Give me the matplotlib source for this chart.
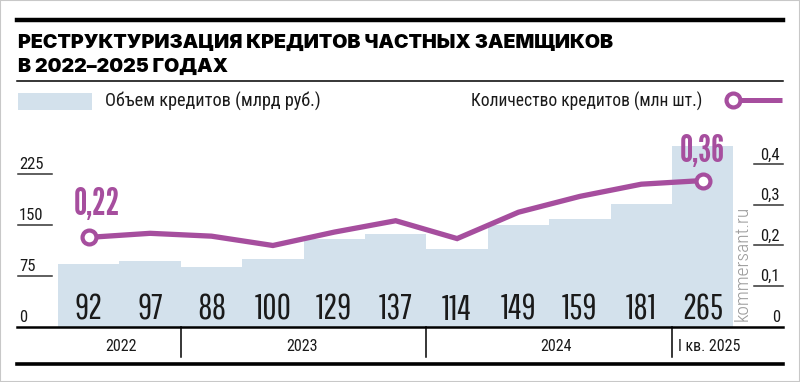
import matplotlib
matplotlib.use("Agg")
import matplotlib.pyplot as plt
import matplotlib.transforms as mtransforms

# ---------------- data ----------------
volume = [92, 97, 88, 100, 129, 137, 114, 149, 159, 181, 265]          # млрд руб.
count = [0.22, 0.23, 0.223, 0.20, 0.233, 0.261, 0.217, 0.282, 0.321, 0.351, 0.36]  # млн шт.
volume_labels = ["92", "97", "88", "100", "129", "137", "114", "149", "159", "181", "265"]
left_ticks = [0, 75, 150, 225]
left_tick_labels = ["0", "75", "150", "225"]
right_ticks = [0, 0.1, 0.2, 0.3, 0.4]
right_tick_labels = ["0", "0,1", "0,2", "0,3", "0,4"]
groups = ["2022", "2023", "2024", "I кв. 2025"]
group_sizes = [2, 4, 4, 1]
highlight = {0: "0,22", 10: "0,36"}
title_lines = ["РЕСТРУКТУРИЗАЦИЯ КРЕДИТОВ ЧАСТНЫХ ЗАЕМЩИКОВ", "В 2022–2025 ГОДАХ"]
legend_bar = "Объем кредитов (млрд руб.)"
legend_line = "Количество кредитов (млн шт.)"
watermark = "kommersant.ru"

# ---------------- style ----------------
COND = ["Roboto Condensed", "DejaVu Sans"]
NUMF = ["Pathway Gothic One", "Roboto Condensed", "DejaVu Sans"]
HIF = ["League Gothic", "Roboto Condensed", "DejaVu Sans"]
TITLEF = ["Inter", "Roboto", "DejaVu Sans"]
PURPLE = "#A64E9E"
BLUE = "#D3E1EC"
DARK = "#1a1a1a"
group_label_dx = [1.5, -1.5, 5, 5]   # points, small nudges of the category labels

W, H = 800, 382
fig = plt.figure(figsize=(W / 100, H / 100), dpi=100)
renderer = fig.canvas.get_renderer()


def fx(px):
    return px / W


def fy(py):
    return 1 - py / H


def fit_width(t, target_px):
    bb = t.get_window_extent(renderer)
    if bb.width > 0:
        t.set_fontsize(t.get_fontsize() * target_px / bb.width)


# frame border
fig.patches.append(plt.Rectangle((0, 0), 1, 1, transform=fig.transFigure,
                                 fill=False, edgecolor="#c8c8c8", linewidth=1.5))

# top rules
fig.add_artist(plt.Line2D([fx(17), fx(783)], [fy(19.5), fy(19.5)], color="black", lw=3.2))
fig.add_artist(plt.Line2D([fx(17), fx(783)], [fy(81), fy(81)], color="black", lw=1.1))

t1 = fig.text(fx(18), fy(47.8), title_lines[0], family=TITLEF, weight="black",
              fontsize=14, color="black", va="baseline", ha="left")
fit_width(t1, 595)
t2 = fig.text(fx(18), fy(72.3), title_lines[1], family=TITLEF, weight="black",
              fontsize=t1.get_fontsize(), color="black", va="baseline", ha="left")

# legend
fig.patches.append(plt.Rectangle((fx(18), fy(109.5)), fx(92) - fx(18), fy(93.3) - fy(109.5),
                                 transform=fig.transFigure, facecolor=BLUE, edgecolor="none"))
lb = fig.text(fx(105), fy(106.5), legend_bar, family=COND, fontsize=13, color=DARK,
              va="baseline", ha="left")
fit_width(lb, 215)
ll = fig.text(fx(702), fy(106.5), legend_line, family=COND, fontsize=13, color=DARK,
              va="baseline", ha="right")
fit_width(ll, 231)
fig.add_artist(plt.Line2D([fx(733), fx(782)], [fy(100), fy(100)], color=PURPLE, lw=3.6,
                          solid_capstyle="butt"))
fig.add_artist(plt.Line2D([fx(733)], [fy(100)], marker="o", markersize=10, markeredgewidth=3,
                          markerfacecolor="white", markeredgecolor=PURPLE))

# ---------------- axes ----------------
base_px, top_px = 326.7, 120
bar0_px, bar_w = 58, 61.4
x_left = (17 - bar0_px) / bar_w - 0.5
x_right = (783 - bar0_px) / bar_w - 0.5
ax = fig.add_axes([fx(17), fy(base_px), fx(783) - fx(17), (base_px - top_px) / H])
ax.set_xlim(x_left, x_right)
ax.set_ylim(0, (base_px - top_px) / 0.68)
ax.axis("off")

xs = list(range(len(volume)))
ax.bar(xs, volume, width=1.0, color=BLUE, edgecolor="none", zorder=1)
for x, lab in zip(xs, volume_labels):
    ax.annotate(lab, (x, 0), xytext=(0, 5), textcoords="offset points",
                ha="center", va="baseline", family=NUMF, fontsize=25, color=DARK, zorder=3)

# left ticks
tick_len = 35 / bar_w
for t, lab in zip(left_ticks, left_tick_labels):
    if t > 0:
        ax.plot([x_left + 1 / bar_w, x_left + tick_len], [t, t], color="#333333", lw=1.1,
                clip_on=False, zorder=2)
    ax.annotate(lab, (x_left + 2 / bar_w, t), xytext=(0, 3.5), textcoords="offset points",
                ha="left", va="baseline", family=COND, fontsize=12, color=DARK)

ax2 = ax.twinx()
ax2.set_xlim(x_left, x_right)
ax2.set_ylim(0, (base_px - top_px) / 406)
ax2.axis("off")
rt_len = 29 / bar_w
for t, lab in zip(right_ticks, right_tick_labels):
    if t > 0:
        ax2.plot([x_right - rt_len, x_right], [t, t], color="#333333", lw=1.1, clip_on=False)
    ax2.annotate(lab, (x_right - 3 / bar_w, t), xytext=(0, 3.5), textcoords="offset points",
                 ha="right", va="baseline", family=COND, fontsize=12, color=DARK)

ax2.plot(xs, count, color=PURPLE, lw=3.8, solid_joinstyle="miter", zorder=4)
hi_offsets = {0: (6, 16), 10: (0, 13)}
for i, lab in highlight.items():
    ax2.plot([xs[i]], [count[i]], marker="o", markersize=10, markeredgewidth=3,
             markerfacecolor="white", markeredgecolor=PURPLE, zorder=5)
    ax2.annotate(lab, (xs[i], count[i]), xytext=hi_offsets[i],
                 textcoords="offset points", ha="center", va="baseline",
                 family=HIF, fontsize=27, color=PURPLE, zorder=6)

# watermark
wm = ax.text((743 - bar0_px) / bar_w - 0.5, (base_px - 263) / 0.68, watermark, rotation=90,
             ha="center", va="center", family=COND, weight="light", fontsize=11.5,
             color="#9a9a9a", zorder=3)
bbw = wm.get_window_extent(renderer)
if bbw.height > 0:
    wm.set_fontsize(wm.get_fontsize() * 115 / bbw.height)

# baseline and bottom categories
ax.plot([x_left, x_right], [0, 0], color="black", lw=1.8, clip_on=False, zorder=6)
axh = base_px - top_px
blend = mtransforms.blended_transform_factory(ax.transData, ax.transAxes)
ax.plot([x_left, x_right], [-(364 - base_px) / axh] * 2, color="black", lw=2.6,
        transform=blend, clip_on=False)
start = 0
for g, n, dx in zip(groups, group_sizes, group_label_dx):
    end = start + n
    if end < len(volume):
        ax.plot([end - 0.5, end - 0.5], [0, -(357 - base_px) / axh], color="black", lw=1.1,
                transform=blend, clip_on=False)
    ax.annotate(g, ((start + end - 1) / 2, -(346.5 - base_px) / axh), xycoords=blend,
                xytext=(dx, 0), textcoords="offset points",
                ha="center", va="center", family=COND, fontsize=11.5, color=DARK)
    start = end

fig.savefig("out.png", dpi=100)
